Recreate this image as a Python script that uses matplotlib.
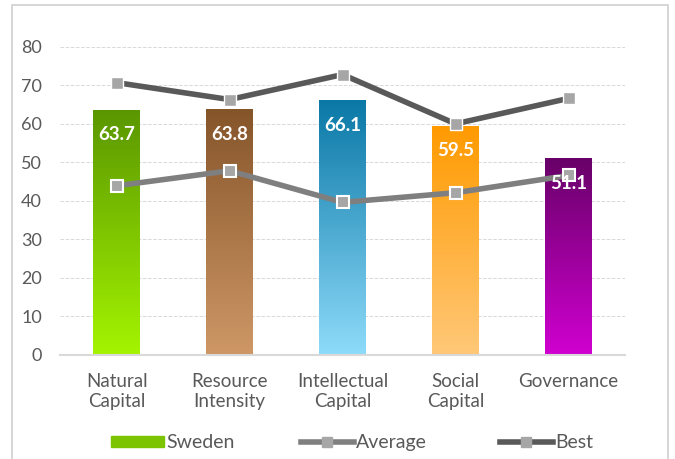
import numpy as np
import matplotlib
matplotlib.use('Agg')
import matplotlib.pyplot as plt
from matplotlib.colors import LinearSegmentedColormap
from matplotlib.patches import Rectangle
from matplotlib.lines import Line2D

plt.rcParams['font.family'] = ['Lato', 'DejaVu Sans']

categories = ['Natural\nCapital', 'Resource\nIntensity', 'Intellectual\nCapital', 'Social\nCapital', 'Governance']
sweden = [63.7, 63.8, 66.1, 59.5, 51.1]
average = [43.9, 47.8, 39.6, 42.1, 46.6]
best = [70.7, 66.3, 72.8, 60.0, 66.6]

# top colour, bottom colour of each bar
bar_colors = [('#5a9600', '#a4f400'), ('#85552a', '#cf9766'), ('#0a78a6', '#8edbfa'),
              ('#ff9a00', '#ffc878'), ('#680068', '#d000d0')]

fig = plt.figure(figsize=(6.75, 4.59), dpi=100)
ax = fig.add_axes([0.089, 0.227, 0.837, 0.671])

x = np.arange(len(categories))
w = 0.41
bars = ax.bar(x, sweden, width=w, color='none', zorder=2)
grad = np.linspace(0, 1, 256).reshape(-1, 1)
for b, (top, bot) in zip(bars, bar_colors):
    cmap = LinearSegmentedColormap.from_list('g', [bot, top])
    x0, y0 = b.get_x(), b.get_y()
    im = ax.imshow(grad, cmap=cmap, origin='lower', aspect='auto',
                   extent=[x0, x0 + b.get_width(), y0, y0 + b.get_height()], zorder=2)
    im.set_clip_path(b)

for xi, v in zip(x, sweden):
    ax.text(xi, v - 6.5, f'{v}', ha='center', va='center', color='white',
            fontsize=13.5, fontweight='bold', zorder=5)

ax.plot(x, best, color='#595959', lw=4, marker='s', ms=9, mfc='#a6a6a6',
        mec='white', mew=1, zorder=3)
ax.plot(x, average, color='#7f7f7f', lw=4, marker='s', ms=9, mfc='#a6a6a6',
        mec='white', mew=1.5, zorder=4)

ax.set_xlim(-0.5, 4.5)
ax.set_ylim(0, 80)
ax.set_yticks(range(0, 81, 10))
ax.set_xticks(x)
ax.set_xticklabels(categories, fontsize=13.5, color='#595959', linespacing=1.25)
ax.tick_params(axis='y', labelsize=13, colors='#595959', length=0, pad=13)
ax.tick_params(axis='x', length=0, pad=13)
ax.yaxis.grid(True, color='#d9d9d9', ls='--', lw=0.7)
ax.set_axisbelow(True)
for s in ['top', 'right', 'left']:
    ax.spines[s].set_visible(False)
ax.spines['bottom'].set_color('#d9d9d9')
ax.spines['bottom'].set_linewidth(1.5)

fig.patches.append(Rectangle((12 / 675, -0.1), 656 / 675, 1 - 5 / 459 + 0.1,
                             transform=fig.transFigure, fill=False,
                             edgecolor='#d0d0d0', lw=1.2))

handles = [Rectangle((0, 0), 1, 1, color='#7cc400'),
           Line2D([], [], color='#7f7f7f', lw=4, marker='s', ms=7, mfc='#a6a6a6', mec='#a6a6a6'),
           Line2D([], [], color='#595959', lw=4, marker='s', ms=7, mfc='#a6a6a6', mec='#a6a6a6')]
labels = ['Sweden', 'Average', 'Best']
lefts = [111, 301, 500]
for h, lab, lx in zip(handles, labels, lefts):
    lg = fig.legend([h], [lab], loc='center left', bbox_to_anchor=(lx / 675, 0.035),
                    frameon=False, fontsize=14, labelcolor='#595959', handlelength=2.7,
                    handleheight=0.55, handletextpad=0.15, borderpad=0, borderaxespad=0)

fig.savefig('out.png', dpi=100)
